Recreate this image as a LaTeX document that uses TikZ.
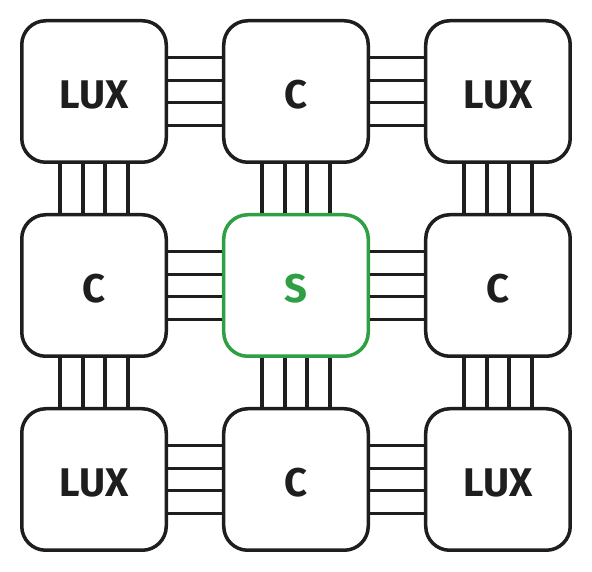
\documentclass[tikz,border=0pt]{standalone}
\usepackage{fontspec}
\setmainfont{Fira Sans}
\usetikzlibrary{matrix}
\definecolor{ink}{RGB}{30,30,30}
\definecolor{leaf}{RGB}{46,160,67}
\tikzset{
  tile/.style  = {shape=rectangle, rounded corners=24pt,
                  draw=ink, line width=3.5pt, anchor=center,
                  minimum width=144.5pt, minimum height=141.5pt,
                  text height=33.5pt, text depth=0pt,
                  font=\fontsize{40}{46}\selectfont\bfseries, text=ink},
  seed/.style  = {tile, draw=leaf, text=leaf},
  bus/.style   = {draw=ink, line width=3.5pt},
}

\begin{document}
\begin{tikzpicture}[x=1pt,y=1pt]
  \useasboundingbox (0,0) rectangle (592,572);
  \matrix (chart) at (296,286.5)
    [
      matrix of nodes,
      column sep = 54pt,
      row sep    = 49pt,
      nodes      = {tile}
    ]
    {
      LUX & C          & LUX \\
      C   & |[seed]| S & C   \\
      LUX & C          & LUX \\
    };
     % horizontal buses
     \draw[bus] foreach \o in {-34,-11,11,34} {([yshift=\o]chart-1-1.east) -- ([yshift=\o]chart-1-2.west)};
     \draw[bus] foreach \o in {-34,-11,11,34} {([yshift=\o]chart-1-2.east) -- ([yshift=\o]chart-1-3.west)};
     \draw[bus] foreach \o in {-34,-11,11,34} {([yshift=\o]chart-2-1.east) -- ([yshift=\o]chart-2-2.west)};
     \draw[bus] foreach \o in {-34,-11,11,34} {([yshift=\o]chart-2-2.east) -- ([yshift=\o]chart-2-3.west)};
     \draw[bus] foreach \o in {-34,-11,11,34} {([yshift=\o]chart-3-1.east) -- ([yshift=\o]chart-3-2.west)};
     \draw[bus] foreach \o in {-34,-11,11,34} {([yshift=\o]chart-3-2.east) -- ([yshift=\o]chart-3-3.west)};
     % vertical buses
     \draw[bus] foreach \o in {-34,-11,11,34} {([xshift=\o]chart-1-1.south) -- ([xshift=\o]chart-2-1.north)};
     \draw[bus] foreach \o in {-34,-11,11,34} {([xshift=\o]chart-2-1.south) -- ([xshift=\o]chart-3-1.north)};
     \draw[bus] foreach \o in {-34,-11,11,34} {([xshift=\o]chart-1-2.south) -- ([xshift=\o]chart-2-2.north)};
     \draw[bus] foreach \o in {-34,-11,11,34} {([xshift=\o]chart-2-2.south) -- ([xshift=\o]chart-3-2.north)};
     \draw[bus] foreach \o in {-34,-11,11,34} {([xshift=\o]chart-1-3.south) -- ([xshift=\o]chart-2-3.north)};
     \draw[bus] foreach \o in {-34,-11,11,34} {([xshift=\o]chart-2-3.south) -- ([xshift=\o]chart-3-3.north)};
\end{tikzpicture}
\end{document}
